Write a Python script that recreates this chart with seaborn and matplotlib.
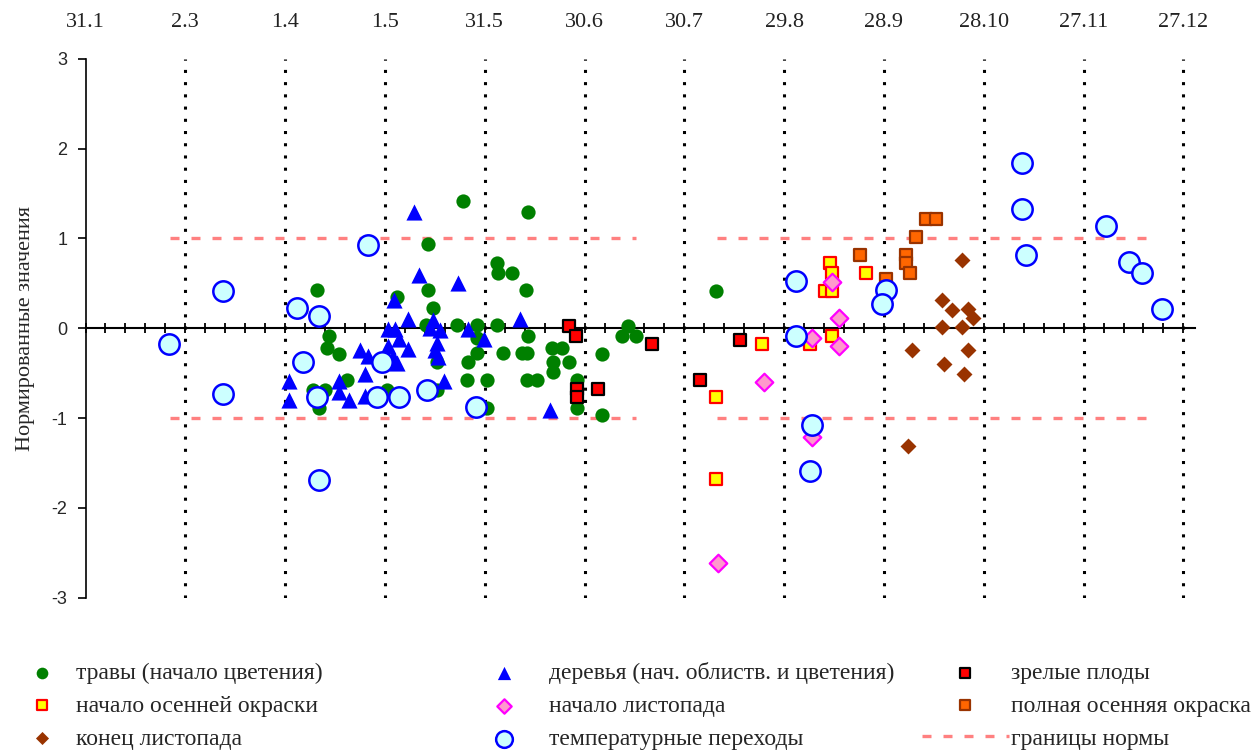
import matplotlib
matplotlib.use('Agg')
import numpy as np
import pandas as pd
import matplotlib.pyplot as plt
import seaborn as sns

# x = day of the year, y = normalised deviation
grass_day = [100.5, 104.1, 103.5, 107.1, 109.5, 99.4, 103.0, 101.1,
             144.4, 164.1, 134.0, 154.6, 155.1, 159.3, 134.0, 163.5, 124.5, 135.4,
             133.3, 142.6, 148.6, 154.6, 164.1, 148.6, 148.6, 146.1, 156.4, 162.1,
             163.6, 171.1, 174.3, 171.4, 176.2, 171.4, 145.6, 151.6, 163.6, 166.6,
             178.6, 178.6, 151.6, 136.6, 121.5, 136.6, 186.3, 186.3, 194.2, 192.3,
             196.6, 220.4]
grass_val = [0.43, -0.09, -0.22, -0.29, -0.58, -0.69, -0.69, -0.89,
             1.42, 1.29, 0.94, 0.73, 0.62, 0.62, 0.43, 0.43, 0.35, 0.23,
             0.04, 0.04, 0.04, 0.04, -0.09, -0.11, -0.28, -0.38, -0.28, -0.28,
             -0.28, -0.22, -0.22, -0.38, -0.38, -0.49, -0.58, -0.58, -0.58, -0.58,
             -0.58, -0.89, -0.89, -0.69, -0.69, -0.38, -0.29, -0.97, 0.03, -0.09,
             -0.09, 0.42]

trees_day = [92.1, 92.1, 113.5, 116.0, 114.9, 107.1, 107.1, 110.1, 114.9,
             129.8, 131.2, 143.1, 123.8, 128.0, 161.6, 122.0, 124.0, 135.5, 134.5,
             137.6, 146.1, 150.9, 125.3, 122.0, 128.0, 136.6, 136.1, 137.0, 123.5,
             124.5, 138.8, 170.6]
trees_val = [-0.59, -0.80, -0.24, -0.31, -0.51, -0.59, -0.71, -0.80, -0.75,
             1.30, 0.59, 0.50, 0.31, 0.10, 0.10, -0.01, -0.01, 0.09, 0.00,
             -0.02, -0.01, -0.12, -0.12, -0.20, -0.23, -0.16, -0.24, -0.32, -0.32,
             -0.39, -0.59, -0.91]

fruit_day = [176.2, 178.5, 178.6, 178.6, 185.0, 201.4, 215.7, 227.7]
fruit_val = [0.03, -0.09, -0.68, -0.77, -0.68, -0.17, -0.58, -0.13]

colour_start_day = [234.3, 220.5, 220.5, 254.8, 255.4, 253.4, 255.4, 255.4, 248.8, 265.6]
colour_start_val = [-0.18, -0.77, -1.68, 0.73, 0.62, 0.42, 0.42, -0.09, -0.18, 0.62]

leaffall_start_day = [234.9, 221.0, 255.4, 249.3, 257.6, 257.6, 249.3]
leaffall_start_val = [-0.60, -2.61, 0.52, -0.11, 0.11, -0.20, -1.21]

colour_full_day = [283.5, 286.6, 280.6, 263.8, 277.6, 277.6, 278.8, 271.6]
colour_full_val = [1.22, 1.22, 1.02, 0.82, 0.82, 0.73, 0.62, 0.55]

leaffall_end_day = [294.4, 288.4, 291.4, 296.2, 297.8, 288.4, 294.4, 279.3,
                    296.2, 289.0, 295.0, 278.1]
leaffall_end_val = [0.76, 0.32, 0.20, 0.21, 0.11, 0.01, 0.01, -0.24,
                    -0.24, -0.40, -0.51, -1.31]

temp_day = [56.1, 72.2, 72.2, 94.5, 96.3, 101.1, 100.5, 101.1, 116.0, 120.2,
            118.5, 125.2, 133.6, 148.4, 244.5, 244.5, 249.3, 248.8, 271.6, 270.4,
            312.4, 312.4, 313.6, 337.6, 344.7, 348.5, 354.5]
temp_val = [-0.17, 0.42, -0.73, 0.23, -0.38, 0.14, -0.77, -1.69, 0.93, -0.38,
            -0.77, -0.77, -0.69, -0.88, 0.53, -0.09, -1.08, -1.59, 0.43, 0.27,
            1.84, 1.33, 0.82, 1.14, 0.74, 0.62, 0.22]

norm_levels = [1, -1]
norm_spans = [[56.4, 196.5], [220.8, 353.4]]

tick_days = [31, 61, 91, 121, 151, 181, 211, 241, 271, 301, 331, 361]
tick_labels = ['31.1', '2.3', '1.4', '1.5', '31.5', '30.6', '30.7', '29.8',
               '28.9', '28.10', '27.11', '27.12']

sns.set_style('white')
plt.rcParams['font.family'] = ['Liberation Serif', 'DejaVu Serif']
plt.rcParams['axes.unicode_minus'] = False

fig = plt.figure(figsize=(12.52, 7.53), dpi=100)
ax = fig.add_axes([0.0683, 0.2063, 0.8862, 0.7155])

# dotted month lines
for d in tick_days[1:]:
    ax.axvline(d, color='black', lw=2.2, linestyle=(0, (1, 3)), zorder=1)

# norm boundaries
first = True
for lev in norm_levels:
    for span in norm_spans:
        ax.plot(span, [lev, lev], color='#FF8080', lw=2.4, dashes=(2.7, 3.6),
                label='границы нормы' if first else None, zorder=2)
        first = False

series = [
    ('травы (начало цветения)', grass_day, grass_val, 'o', 105, '#008000', '#008000', 0),
    ('деревья (нач. облиств. и цветения)', trees_day, trees_val, '^', 135, '#0000FF', '#0000FF', 0),
    ('зрелые плоды', fruit_day, fruit_val, 's', 70, '#FF0000', 'black', 1.6),
    ('начало осенней окраски', colour_start_day, colour_start_val, 's', 70, '#FFFF00', '#FF0000', 1.6),
    ('начало листопада', leaffall_start_day, leaffall_start_val, 'D', 80, '#FF99CC', '#FF00FF', 1.6),
    ('полная осенняя окраска', colour_full_day, colour_full_val, 's', 78, '#FF6600', '#993300', 1.6),
    ('конец листопада', leaffall_end_day, leaffall_end_val, 'D', 66, '#993300', '#993300', 0),
    ('температурные переходы', temp_day, temp_val, 'o', 215, '#CCFFFF', '#0000FF', 1.8),
]
for i, (lab, xs, ys, mk, sz, fc, ec, lw) in enumerate(series):
    sns.scatterplot(x=xs, y=ys, ax=ax, marker=mk, s=sz, color=fc, edgecolor=ec,
                    linewidth=lw, label=lab, legend=False, zorder=3 + i)

ax.set_xlim(31, 364.5)
ax.set_ylim(-3, 3)
ax.spines['top'].set_visible(False)
ax.spines['right'].set_visible(False)
ax.spines['bottom'].set_position(('data', 0))
ax.spines['bottom'].set_linewidth(1.5)
ax.spines['left'].set_linewidth(1.2)
ax.spines['left'].set_color('black')
ax.spines['bottom'].set_color('black')
ax.set_xticks(np.arange(31, 365, 6))
ax.tick_params(axis='x', direction='inout', length=7, width=1.3, labelbottom=False,
               bottom=True, color='black')
ax.set_yticks([-3, -2, -1, 0, 1, 2, 3])
ax.tick_params(axis='y', direction='out', length=6, width=1.2, pad=7, labelsize=13,
               left=True, color='black')
for t in ax.get_yticklabels():
    t.set_fontfamily(['Liberation Sans'])
ax.set_ylabel('Нормированные значения', fontsize=16, labelpad=12)

secax = ax.secondary_xaxis('top')
secax.set_xticks(tick_days)
secax.set_xticklabels(tick_labels)
secax.tick_params(axis='x', length=0, pad=19, labelsize=16, colors='#222222')
secax.spines['top'].set_visible(False)

handles, labels = ax.get_legend_handles_labels()
hmap = dict(zip(labels, handles))
columns = [
    (['травы (начало цветения)', 'начало осенней окраски', 'конец листопада'], 0.0082, 2.7),
    (['деревья (нач. облиств. и цветения)', 'начало листопада', 'температурные переходы'], 0.3693, 3.55),
    (['зрелые плоды', 'полная осенняя окраска', 'границы нормы'], 0.7367, 3.65),
]
for labs, xpos, hl in columns:
    fig.legend([hmap[l] for l in labs], labs, loc='upper left', bbox_to_anchor=(xpos, 0.1205),
               frameon=False, borderpad=0, borderaxespad=0, handlelength=hl,
               handletextpad=0.1, labelspacing=0.48, fontsize=17, markerscale=0.82)

fig.savefig('out.png', dpi=100)
